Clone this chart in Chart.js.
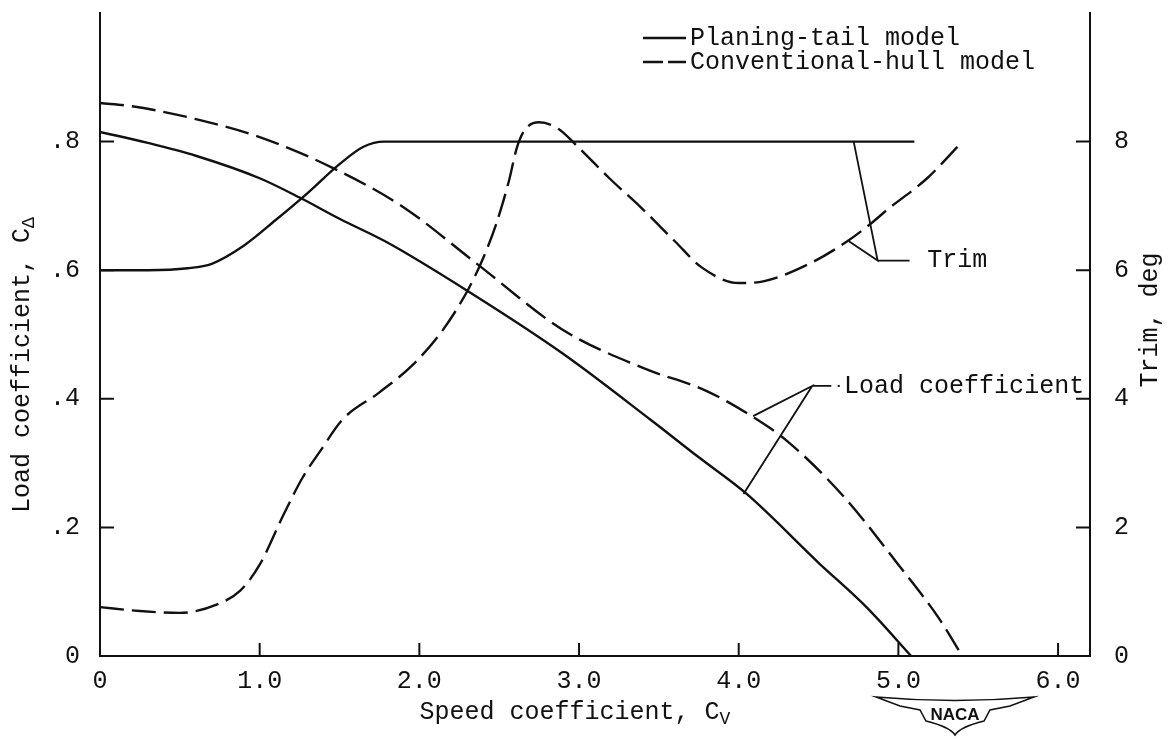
<!DOCTYPE html>
<html>
<head>
<meta charset="utf-8">
<script src="https://cdn.jsdelivr.net/npm/chart.js@4.4.0/dist/chart.umd.min.js"></script>
<style>
  html, body { margin: 0; padding: 0; background: #fff; }
  #wrap { width: 1171px; height: 739px; }
</style>
</head>
<body>
<div id="wrap"><canvas id="chart" width="1171" height="739"></canvas></div>
<script>
// values (speed coefficient C_V on x)
var planingLoadCv = [0, 0.3, 0.6, 1.0, 1.25, 1.5, 1.8, 2.3, 2.9, 3.45, 3.75, 4.05, 4.5, 4.8, 5.08];
var planingLoad = [0.815, 0.798, 0.778, 0.743, 0.713, 0.680, 0.643, 0.568, 0.470, 0.367, 0.309, 0.252, 0.145, 0.076, 0.0];

var conventionalLoadCv = [0, 0.2, 0.6, 1.0, 1.45, 1.9, 2.35, 2.9, 3.4, 3.8, 4.1, 4.3, 4.65, 5.0, 5.25, 5.4];
var conventionalLoad = [0.86, 0.855, 0.835, 0.807, 0.76, 0.698, 0.612, 0.507, 0.448, 0.412, 0.37, 0.335, 0.25, 0.142, 0.06, 0.0];

var planingTrimCv = [0, 0.3, 0.55, 0.7, 0.9, 1.1, 1.3, 1.5, 1.65, 1.78, 5.1];
var planingTrim = [6.0, 6.0, 6.03, 6.1, 6.38, 6.78, 7.2, 7.65, 7.92, 8.0, 8.0];

var conventionalTrimCv = [0, 0.25, 0.5, 0.73, 0.88, 1.0, 1.15, 1.27, 1.38, 1.52, 1.75, 1.96, 2.15, 2.31, 2.4, 2.48, 2.56, 2.61, 2.66, 2.75, 2.87, 2.98, 3.19, 3.39, 3.6, 3.77, 4.0, 4.16, 4.45, 4.68, 4.83, 4.93, 5.18, 5.39];
var conventionalTrim = [0.76, 0.7, 0.67, 0.8, 1.02, 1.42, 2.2, 2.78, 3.19, 3.68, 4.1, 4.53, 5.08, 5.72, 6.19, 6.71, 7.38, 7.9, 8.18, 8.3, 8.2, 7.95, 7.43, 6.97, 6.45, 6.04, 5.8, 5.83, 6.11, 6.45, 6.73, 6.94, 7.43, 7.97];

var cvTicks = [0, 1, 2, 3, 4, 5, 6];
var loadTicks = [0, 0.2, 0.4, 0.6, 0.8];
var trimTicks = [0, 2, 4, 6, 8];

var legendLabels = ['Planing-tail model', 'Conventional-hull model'];

var FONT = '"Liberation Mono", "DejaVu Sans Mono", monospace';
var FS = 25;
var INK = '#111';
var DASH = [24, 8];

function pairs(xs, ys) {
    return xs.map(function (x, i) { return { x: x, y: ys[i] }; });
}

function setTicks(values) {
    return function (scale) {
        scale.ticks = values.map(function (v) { return { value: v }; });
    };
}

// draws a string with a subscript after it, centred on (0,0) of the current transform
function subText(ctx, main, sub, size) {
    ctx.font = size + 'px ' + FONT;
    var w1 = ctx.measureText(main).width;
    ctx.font = (size * 0.72) + 'px ' + FONT;
    var w2 = ctx.measureText(sub).width;
    var left = -(w1 + w2) / 2;
    ctx.textAlign = 'left';
    ctx.textBaseline = 'middle';
    ctx.font = size + 'px ' + FONT;
    ctx.fillText(main, left, 0);
    ctx.font = (size * 0.72) + 'px ' + FONT;
    ctx.fillText(sub, left + w1, size * 0.3);
}

var decor = {
    id: 'decor',
    afterDraw: function (chart) {
        var ctx = chart.ctx;
        var x = chart.scales.x, y = chart.scales.y, y2 = chart.scales.y2;
        var area = chart.chartArea;
        ctx.save();
        ctx.strokeStyle = INK;
        ctx.fillStyle = INK;
        ctx.lineWidth = 2;

        // inward tick marks
        ctx.beginPath();
        cvTicks.slice(1).forEach(function (v) {
            var px = x.getPixelForValue(v);
            ctx.moveTo(px, area.bottom);
            ctx.lineTo(px, area.bottom - 13);
        });
        loadTicks.slice(1).forEach(function (v) {
            var py = y.getPixelForValue(v);
            ctx.moveTo(area.left, py);
            ctx.lineTo(area.left + 14, py);
        });
        trimTicks.slice(1).forEach(function (v) {
            var py = y2.getPixelForValue(v);
            ctx.moveTo(area.right, py);
            ctx.lineTo(area.right - 14, py);
        });
        ctx.stroke();

        // axis titles
        ctx.save();
        ctx.translate(22, 365);
        ctx.rotate(-Math.PI / 2);
        subText(ctx, 'Load coefficient, C', '\u0394', FS);
        ctx.restore();

        ctx.save();
        ctx.translate(1150, 320);
        ctx.rotate(-Math.PI / 2);
        subText(ctx, 'Trim, deg', '', FS);
        ctx.restore();

        ctx.save();
        ctx.translate(575, 712);
        subText(ctx, 'Speed coefficient, C', 'V', FS);
        ctx.restore();

        // legend
        ctx.font = FS + 'px ' + FONT;
        ctx.textAlign = 'left';
        ctx.textBaseline = 'middle';
        ctx.lineWidth = 2.5;
        [38, 62].forEach(function (ly, i) {
            ctx.setLineDash(i === 0 ? [] : [20, 5]);
            ctx.beginPath();
            ctx.moveTo(643, ly);
            ctx.lineTo(686, ly);
            ctx.stroke();
            ctx.setLineDash([]);
            ctx.fillText(legendLabels[i], 690, ly);
        });

        // leader to trim curves
        ctx.lineWidth = 1.8;
        var kx = x.getPixelForValue(4.87), ky = y2.getPixelForValue(6.15);
        ctx.beginPath();
        ctx.moveTo(x.getPixelForValue(4.72), y2.getPixelForValue(8.0));
        ctx.lineTo(kx, ky);
        ctx.lineTo(x.getPixelForValue(4.69), y2.getPixelForValue(6.45));
        ctx.moveTo(kx, ky);
        ctx.lineTo(x.getPixelForValue(5.07), ky);
        ctx.stroke();
        ctx.fillText('Trim', x.getPixelForValue(5.18), ky);

        // leader to load curves
        var lx = x.getPixelForValue(4.46), ly2 = y.getPixelForValue(0.42);
        ctx.beginPath();
        ctx.moveTo(x.getPixelForValue(4.09), y.getPixelForValue(0.373));
        ctx.lineTo(lx, ly2);
        ctx.lineTo(x.getPixelForValue(4.03), y.getPixelForValue(0.252));
        ctx.moveTo(lx, ly2);
        ctx.lineTo(x.getPixelForValue(4.58), ly2);
        ctx.stroke();
        ctx.fillRect(x.getPixelForValue(4.62), ly2 - 1, 2, 2);
        ctx.fillText('Load coefficient', x.getPixelForValue(4.66), ly2);

        // NACA emblem
        ctx.lineWidth = 1.5;
        ctx.beginPath();
        ctx.moveTo(876, 697);
        ctx.quadraticCurveTo(955, 704, 1034, 697);
        ctx.lineTo(1010, 706);
        ctx.lineTo(990, 710);
        ctx.lineTo(984, 721);
        ctx.quadraticCurveTo(960, 727, 955, 735);
        ctx.quadraticCurveTo(950, 727, 926, 721);
        ctx.lineTo(920, 710);
        ctx.lineTo(900, 706);
        ctx.closePath();
        ctx.stroke();
        ctx.font = 'bold 17px "Liberation Sans", Arial, sans-serif';
        ctx.textAlign = 'center';
        ctx.fillText('NACA', 955, 715);
        ctx.restore();
    }
};

function noPadV(s, w) { s.width = w; s.paddingTop = 0; s.paddingBottom = 0; }

var ctx = document.getElementById('chart').getContext('2d');
new Chart(ctx, {
    type: 'line',
    data: {
        datasets: [
            { label: legendLabels[0], data: pairs(planingLoadCv, planingLoad), yAxisID: 'y' },
            { label: legendLabels[1], data: pairs(conventionalLoadCv, conventionalLoad), yAxisID: 'y', borderDash: DASH },
            { label: 'Planing-tail trim', data: pairs(planingTrimCv, planingTrim), yAxisID: 'y2' },
            { label: 'Conventional-hull trim', data: pairs(conventionalTrimCv, conventionalTrim), yAxisID: 'y2', borderDash: DASH }
        ]
    },
    options: {
        responsive: false,
        animation: false,
        layout: { padding: { top: 13, left: 0, right: 0, bottom: 0 } },
        plugins: {
            legend: { display: false },
            tooltip: { enabled: false }
        },
        elements: {
            point: { radius: 0 },
            line: { borderWidth: 2.4, borderColor: INK, cubicInterpolationMode: 'monotone', fill: false }
        },
        scales: {
            x: {
                type: 'linear', min: 0, max: 6.2,
                afterBuildTicks: setTicks(cvTicks),
                afterFit: function (s) { s.height = 83; s.paddingLeft = 0; s.paddingRight = 0; },
                grid: { display: false },
                border: { display: true, color: INK, width: 2 },
                ticks: {
                    color: INK, padding: 2,
                    font: { family: FONT, size: FS },
                    callback: function (v) { return v === 0 ? '0' : v.toFixed(1); }
                }
            },
            y: {
                type: 'linear', position: 'left', min: 0, max: 1.0,
                afterBuildTicks: setTicks(loadTicks),
                afterFit: function (s) { noPadV(s, 100); },
                grid: { display: false },
                border: { display: true, color: INK, width: 2 },
                ticks: {
                    color: INK, padding: 12,
                    font: { family: FONT, size: FS },
                    callback: function (v) { return v === 0 ? '0' : '.' + Math.round(v * 10); }
                }
            },
            y2: {
                type: 'linear', position: 'right', min: 0, max: 10,
                afterBuildTicks: setTicks(trimTicks),
                afterFit: function (s) { noPadV(s, 81); },
                grid: { display: false },
                border: { display: true, color: INK, width: 2 },
                ticks: {
                    color: INK, padding: 16,
                    font: { family: FONT, size: FS },
                    callback: function (v) { return String(v); }
                }
            }
        }
    },
    plugins: [decor]
});
</script>
</body>
</html>
